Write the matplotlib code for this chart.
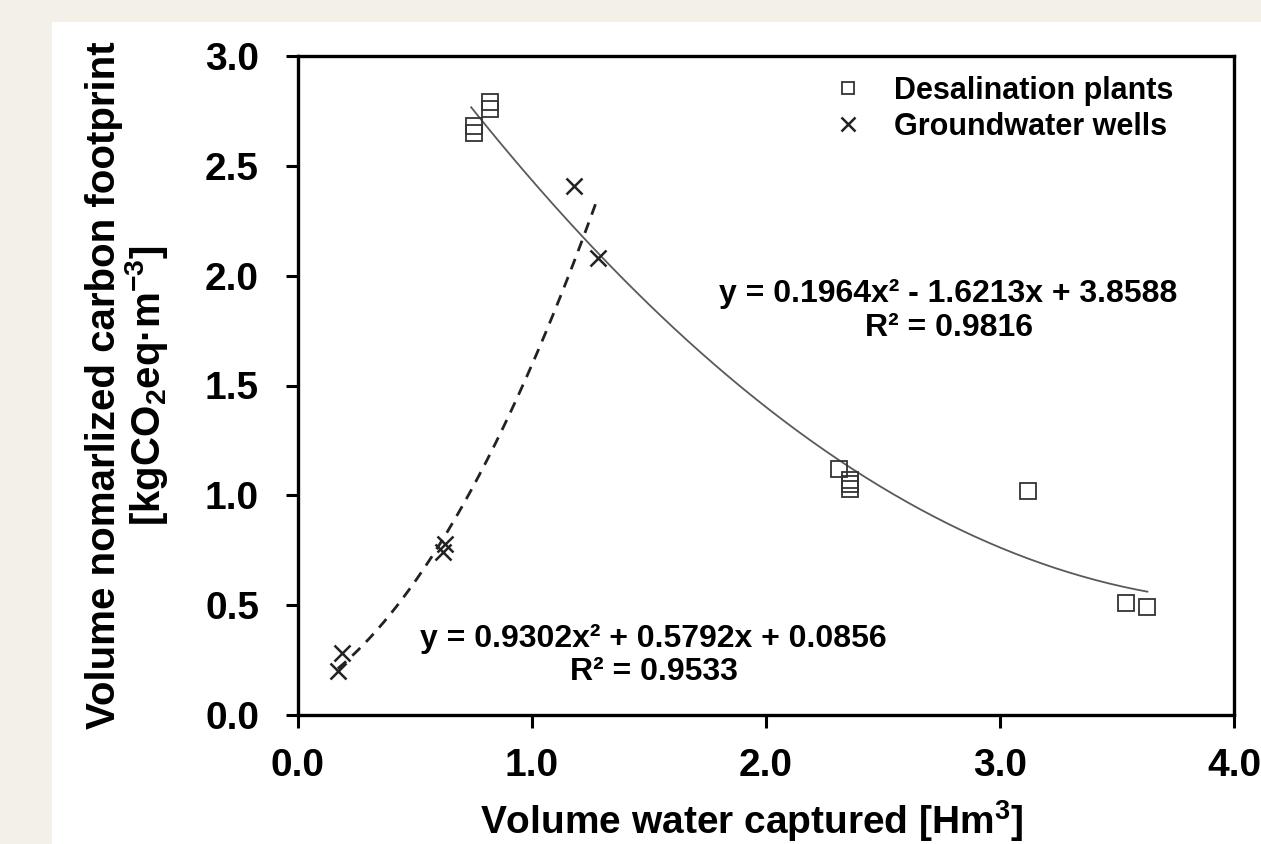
import numpy as np
import matplotlib
matplotlib.use("Agg")
import matplotlib.pyplot as plt
from matplotlib.patches import Rectangle

plt.rcParams['font.family'] = ['Liberation Sans', 'DejaVu Sans']
plt.rcParams['font.weight'] = 'bold'
plt.rcParams['mathtext.fontset'] = 'custom'
plt.rcParams['mathtext.rm'] = 'Liberation Sans:bold'
plt.rcParams['mathtext.it'] = 'Liberation Sans:bold'
plt.rcParams['mathtext.bf'] = 'Liberation Sans:bold'

# desalination plants
desal_x = [0.75, 0.75, 0.82, 0.82, 2.31, 2.36, 2.36, 2.36, 3.12, 3.54, 3.63]
desal_y = [2.65, 2.68, 2.76, 2.79, 1.12, 1.07, 1.05, 1.03, 1.02, 0.51, 0.49]
desal_coef = [0.1964, -1.6213, 3.8588]
desal_range = [0.74, 3.63]

# groundwater wells
gw_x = [0.17, 0.19, 0.62, 0.63, 1.18, 1.28]
gw_y = [0.20, 0.28, 0.74, 0.78, 2.41, 2.08]
gw_coef = [0.9302, 0.5792, 0.0856]
gw_range = [0.17, 1.28]

xticks = [0.0, 1.0, 2.0, 3.0, 4.0]
yticks = [0.0, 0.5, 1.0, 1.5, 2.0, 2.5, 3.0]

fig = plt.figure(figsize=(12.61, 8.44), dpi=100, facecolor='#f3f0e8')
fig.patches.append(Rectangle((52 / 1261, 0), 1, (844 - 22) / 844,
                             transform=fig.transFigure, facecolor='white',
                             edgecolor='none', zorder=-10))
ax = fig.add_axes([298 / 1261, 1 - 715 / 844, (1234 - 298) / 1261, (715 - 56) / 844])

xs = np.linspace(desal_range[0], desal_range[1], 200)
ax.plot(xs, np.polyval(desal_coef, xs), color='#5a5a5a', lw=1.3, zorder=2)
xs = np.linspace(gw_range[0], gw_range[1], 200)
ax.plot(xs, np.polyval(gw_coef, xs), color='#222222', lw=2.0,
        dashes=(4, 3), zorder=2)

ax.plot(desal_x, desal_y, ls='none', marker='s', ms=11, mfc='none',
        mec='#333333', mew=1.3, label='Desalination plants', zorder=3)
ax.plot(gw_x, gw_y, ls='none', marker='x', ms=12, mec='#222222',
        mew=1.8, label='Groundwater wells', zorder=3)

ax.set_xlim(0, 4)
ax.set_ylim(0, 3)
ax.set_xticks(xticks)
ax.set_yticks(yticks)
ax.set_xticklabels([f"{v:.1f}" for v in xticks])
ax.set_yticklabels([f"{v:.1f}" for v in yticks])
ax.tick_params(direction='out', length=9, width=2.2, labelsize=28,
               pad=15, top=False, right=False)
ax.tick_params(axis='y', pad=19)
for s in ax.spines.values():
    s.set_linewidth(2.4)

ax.set_xlabel("Volume water captured [Hm$^{3}$]", fontsize=28,
              fontweight='bold', labelpad=10)
ax.xaxis.label.set_x(0.485)
ax.set_ylabel("Volume nomarlized carbon footprint\n[kgCO$_{2}$eq·m$^{-3}$]",
              fontsize=29, fontweight='bold', labelpad=25, linespacing=1.0)

ax.text(2.78, 1.84, "y = 0.1964x² - 1.6213x + 3.8588\nR² = 0.9816",
        fontsize=23, ha='center', va='center', linespacing=1.15)
ax.text(1.52, 0.27, "y = 0.9302x² + 0.5792x + 0.0856\nR² = 0.9533",
        fontsize=23, ha='center', va='center', linespacing=1.15)

ax.legend(loc='upper right', bbox_to_anchor=(0.956, 1.0), frameon=False,
          fontsize=22, handlelength=1.0, handletextpad=1.0,
          labelspacing=0.2, markerscale=0.85, borderaxespad=0.0,
          borderpad=0.65)

fig.savefig("out.png", dpi=100, facecolor=fig.get_facecolor())
